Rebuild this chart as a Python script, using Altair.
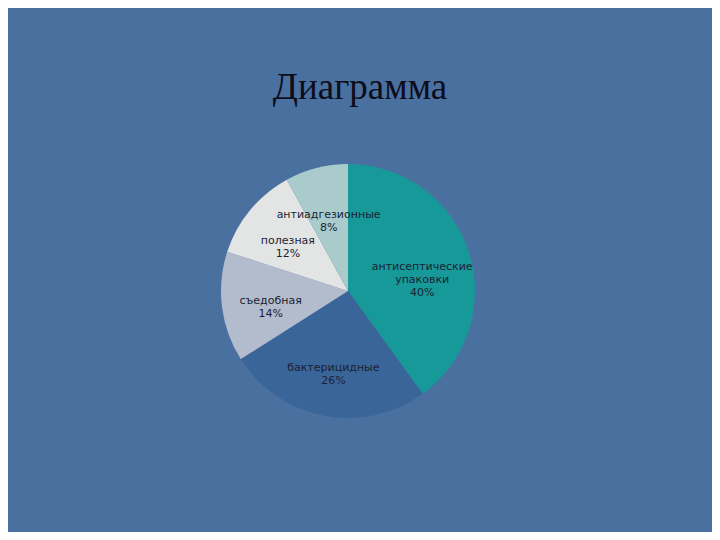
import altair as alt
import pandas as pd

categories = ["антисептические упаковки", "бактерицидные", "съедобная", "полезная", "антиадгезионные"]
label_lines = ["антисептические\nупаковки", "бактерицидные", "съедобная", "полезная", "антиадгезионные"]
percents = [40, 26, 14, 12, 8]
colors = ["#17999a", "#3a6598", "#b3bccc", "#e3e4e4", "#a9cbcb"]

df = pd.DataFrame({
    "cat": categories,
    "val": percents,
    "ord": list(range(len(categories))),
    "label": [f"{l}\n{p}%" for l, p in zip(label_lines, percents)],
})

W, H = 704, 524
cx, cy = 340, 283

base = alt.Chart(df).encode(
    theta=alt.Theta("val:Q", stack=True),
    order=alt.Order("ord:Q", sort="ascending"),
)

pie = base.mark_arc(radius=127).encode(
    x=alt.value(cx), y=alt.value(cy),
    color=alt.Color("cat:N", scale=alt.Scale(domain=categories, range=colors), legend=None),
)

labels = base.mark_text(
    radius=78, font="DejaVu Sans", fontSize=11, color="#1b1f33",
    lineBreak="\n", align="center", baseline="middle", lineHeight=13,
).encode(x=alt.value(cx), y=alt.value(cy), text="label:N")

title = alt.Chart(pd.DataFrame({"t": ["Диаграмма"]})).mark_text(
    font="Liberation Serif", fontSize=37, color="#0d0d1a", align="center", baseline="middle",
).encode(x=alt.value(352), y=alt.value(80), text="t:N")

chart = alt.layer(pie, labels, title).properties(
    width=W, height=H, background="#4a70a0", padding=0,
).configure_view(stroke=None, fill="#4a70a0")

chart.save("out.html", embed_options={"renderer": "svg", "actions": False})
